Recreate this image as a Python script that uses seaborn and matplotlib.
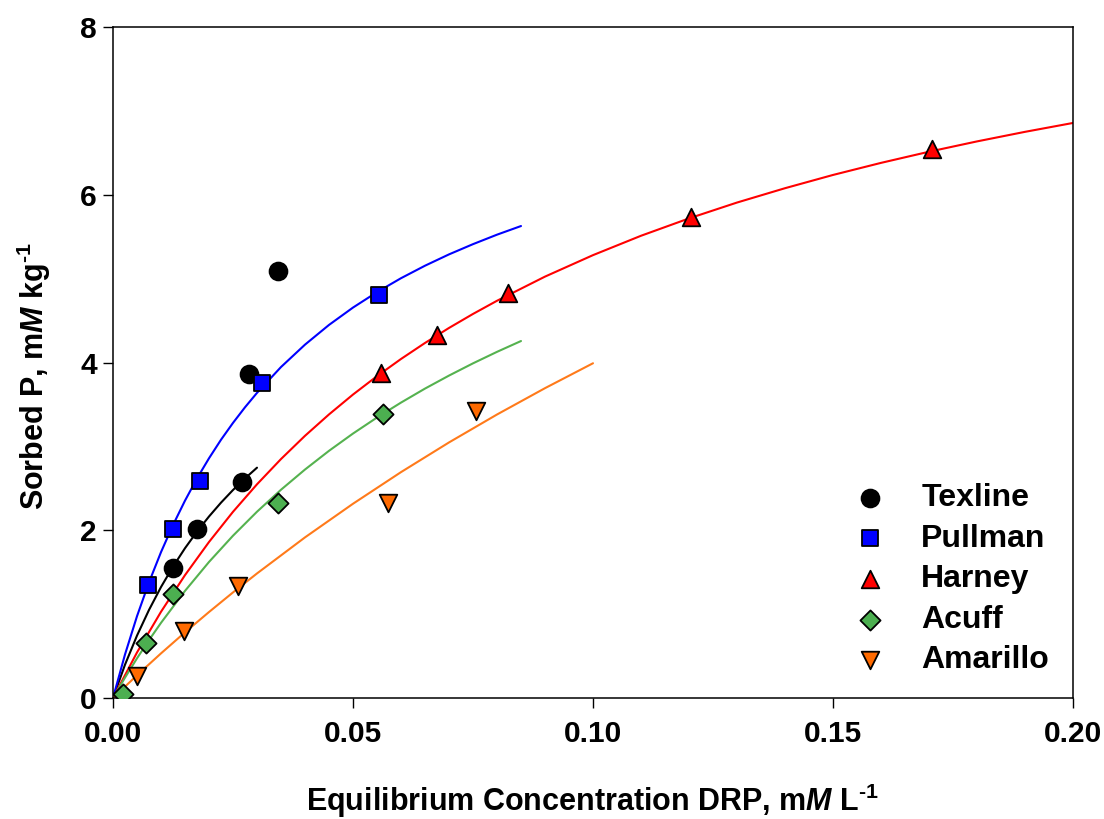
import numpy as np
import pandas as pd
import matplotlib
matplotlib.use("Agg")
import matplotlib.pyplot as plt
import seaborn as sns

# ---------------- data ----------------
soils = ["Texline", "Pullman", "Harney", "Acuff", "Amarillo"]

texline_x = [0.0125, 0.0174, 0.0268, 0.0283, 0.0343]
texline_y = [1.55, 2.02, 2.58, 3.86, 5.09]

pullman_x = [0.0073, 0.0125, 0.0182, 0.0311, 0.0554]
pullman_y = [1.35, 2.01, 2.59, 3.76, 4.81]

harney_x = [0.0558, 0.0675, 0.0822, 0.1205, 0.1706]
harney_y = [3.87, 4.33, 4.83, 5.73, 6.54]

acuff_x = [0.0021, 0.0068, 0.0125, 0.0344, 0.0562]
acuff_y = [0.05, 0.65, 1.24, 2.32, 3.39]

amarillo_x = [0.0049, 0.0148, 0.0261, 0.0573, 0.0757]
amarillo_y = [0.26, 0.80, 1.33, 2.32, 3.42]

# fitted curves
fit_texline_x = [0, 0.0025, 0.005, 0.0075, 0.01, 0.0125, 0.015, 0.0175, 0.02, 0.0225, 0.025, 0.0275, 0.030]
fit_texline_y = [0, 0.397, 0.744, 1.050, 1.323, 1.566, 1.786, 1.984, 2.164, 2.329, 2.480, 2.618, 2.746]

fit_pullman_x = [0, 0.0025, 0.005, 0.0075, 0.01, 0.0125, 0.015, 0.0175, 0.02, 0.0225, 0.025, 0.0275,
                 0.03, 0.035, 0.04, 0.045, 0.05, 0.055, 0.06, 0.065, 0.07, 0.075, 0.08, 0.085]
fit_pullman_y = [0, 0.519, 0.975, 1.379, 1.739, 2.062, 2.353, 2.618, 2.858, 3.079, 3.280, 3.466,
                 3.638, 3.946, 4.213, 4.448, 4.655, 4.839, 5.005, 5.154, 5.289, 5.411, 5.524, 5.627]

fit_harney_x = [0, 0.005, 0.01, 0.015, 0.02, 0.025, 0.03, 0.035, 0.04, 0.045, 0.05, 0.055, 0.06,
                0.065, 0.07, 0.075, 0.08, 0.09, 0.10, 0.11, 0.12, 0.13, 0.14, 0.15, 0.16, 0.17,
                0.18, 0.19, 0.20]
fit_harney_y = [0, 0.543, 1.028, 1.465, 1.860, 2.220, 2.548, 2.849, 3.126, 3.381, 3.618, 3.837, 4.042,
                4.233, 4.412, 4.579, 4.736, 5.024, 5.280, 5.511, 5.718, 5.907, 6.078, 6.236, 6.380,
                6.513, 6.636, 6.750, 6.856]

fit_acuff_x = [0, 0.0025, 0.005, 0.0075, 0.01, 0.015, 0.02, 0.025, 0.03, 0.035, 0.04, 0.045, 0.05,
               0.055, 0.06, 0.065, 0.07, 0.075, 0.08, 0.085]
fit_acuff_y = [0, 0.243, 0.473, 0.690, 0.896, 1.277, 1.622, 1.935, 2.221, 2.483, 2.724, 2.947, 3.153,
               3.344, 3.522, 3.689, 3.844, 3.990, 4.127, 4.256]

fit_amarillo_x = [0, 0.005, 0.01, 0.015, 0.02, 0.025, 0.03, 0.04, 0.05, 0.06, 0.07, 0.08, 0.09, 0.10]
fit_amarillo_y = [0, 0.271, 0.532, 0.783, 1.025, 1.259, 1.485, 1.915, 2.316, 2.693, 3.047, 3.380,
                  3.694, 3.991]

x_ticks = [0.00, 0.05, 0.10, 0.15, 0.20]
y_ticks = [0, 2, 4, 6, 8]

# ---------------- styling ----------------
marker_colors = {"Texline": "#000000", "Pullman": "#0000FF", "Harney": "#FF0000",
                 "Acuff": "#4CAF50", "Amarillo": "#FF6A00"}
line_colors = {"Texline": "#000000", "Pullman": "#0000FF", "Harney": "#FF0000",
               "Acuff": "#55B24F", "Amarillo": "#FF7A1A"}
markers = {"Texline": "o", "Pullman": "s", "Harney": "^", "Acuff": "D", "Amarillo": "v"}
sizes = {"Texline": 165, "Pullman": 120, "Harney": 160, "Acuff": 105, "Amarillo": 160}

sns.set_theme(style="ticks")
plt.rcParams["font.family"] = ["Liberation Sans", "DejaVu Sans"]
plt.rcParams["font.weight"] = "bold"
plt.rcParams["text.color"] = "black"
plt.rcParams["axes.labelcolor"] = "black"
plt.rcParams["xtick.color"] = "black"
plt.rcParams["ytick.color"] = "black"
plt.rcParams["mathtext.fontset"] = "custom"
plt.rcParams["mathtext.rm"] = "Liberation Sans:bold"
plt.rcParams["mathtext.it"] = "Liberation Sans:italic:bold"
plt.rcParams["mathtext.bf"] = "Liberation Sans:bold"

pts = pd.DataFrame({
    "soil": sum([[s] * 5 for s in soils], []),
    "C": texline_x + pullman_x + harney_x + acuff_x + amarillo_x,
    "S": texline_y + pullman_y + harney_y + acuff_y + amarillo_y,
})
fit_x = [fit_texline_x, fit_pullman_x, fit_harney_x, fit_acuff_x, fit_amarillo_x]
fit_y = [fit_texline_y, fit_pullman_y, fit_harney_y, fit_acuff_y, fit_amarillo_y]
fits = pd.DataFrame({
    "soil": sum([[s] * len(x) for s, x in zip(soils, fit_x)], []),
    "C": sum(fit_x, []),
    "S": sum(fit_y, []),
})

fig = plt.figure(figsize=(11.04, 8.19), dpi=100)
ax = fig.add_axes([113 / 1104, 121 / 819, 960 / 1104, 671 / 819])

sns.lineplot(data=fits, x="C", y="S", hue="soil", hue_order=soils, palette=line_colors,
             linewidth=1.5, legend=False, sort=False, estimator=None, ax=ax, zorder=2)

for s in soils:
    d = pts[pts["soil"] == s]
    sns.scatterplot(data=d, x="C", y="S", marker=markers[s], color=marker_colors[s],
                    s=sizes[s], edgecolor="black", linewidth=1.3, ax=ax, zorder=3, label=s)

ax.set_xlim(0, 0.20)
ax.set_ylim(0, 8)
ax.set_xticks(x_ticks)
ax.set_xticklabels([f"{v:.2f}" for v in x_ticks])
ax.set_yticks(y_ticks)
ax.set_yticklabels([str(v) for v in y_ticks])
ax.tick_params(axis="both", direction="out", length=7.2, width=1.0, labelsize=21.5,
               colors="black")
ax.tick_params(axis="x", pad=9)
ax.tick_params(axis="y", pad=4.5)
for lab in ax.get_xticklabels() + ax.get_yticklabels():
    lab.set_fontweight("bold")
for sp in ax.spines.values():
    sp.set_visible(True)
    sp.set_linewidth(1.1)
    sp.set_color("black")

ax.set_xlabel(r"Equilibrium Concentration DRP, m$\mathit{M}$ L$^{\text{-}1}$", fontsize=22,
              fontweight="bold", color="black")
ax.set_ylabel(r"Sorbed P, m$\mathit{M}$ kg$^{\text{-}1}$", fontsize=22, fontweight="bold",
              color="black")
ax.xaxis.set_label_coords(0.5, -0.125)
ax.yaxis.set_label_coords(-0.063, 0.48)

leg = ax.legend(loc="upper left", bbox_to_anchor=(0.772, 0.320), frameon=False,
                fontsize=23, handlelength=1.0, handletextpad=1.1, labelspacing=0.33,
                borderpad=0, borderaxespad=0, markerscale=1.0)
for t in leg.get_texts():
    t.set_fontweight("bold")
    t.set_color("black")

fig.savefig("out.png", dpi=100)
